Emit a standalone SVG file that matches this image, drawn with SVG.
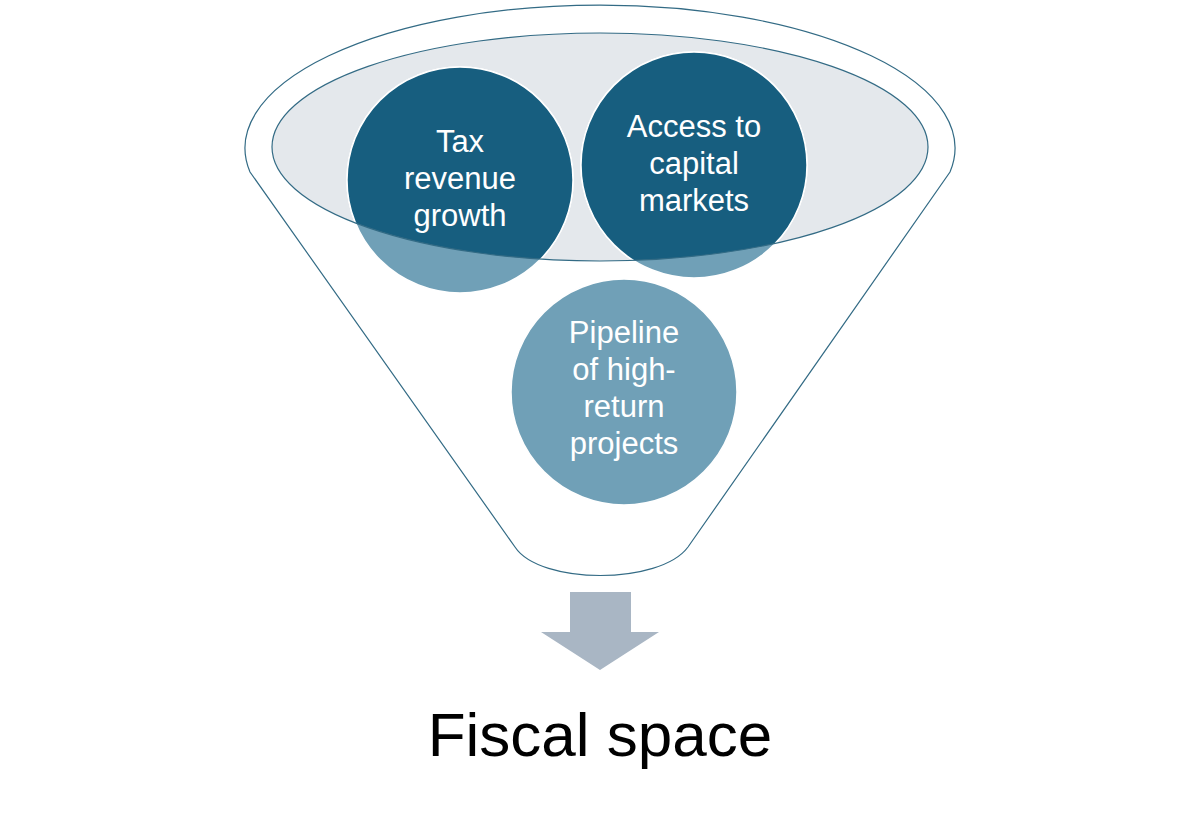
<svg xmlns="http://www.w3.org/2000/svg" width="1200" height="813" viewBox="0 0 1200 813">
<style>
.ctext{font-family:"Liberation Sans",Arial,sans-serif;font-size:31px;fill:#ffffff;text-anchor:middle}
.light{fill:#70a0b7;stroke:#ffffff;stroke-width:1.5}
.dark{fill:#175e7f;stroke:#ffffff;stroke-width:1.5}
.outline{fill:none;stroke:#336b85;stroke-width:1.2}
</style>
<defs>
<clipPath id="ellClip"><ellipse cx="600" cy="147" rx="328" ry="114"/></clipPath>
</defs>
<rect width="1200" height="813" fill="#ffffff"/>
<g id="funnel">
<path class="outline" d="M 250,172 A 355 143 0 1 1 950,172 L 688,547 C 660,585 540,585 515,547 Z"/>
<ellipse cx="600" cy="147" rx="328" ry="114" fill="#e4e8ec"/>
</g>
<g id="node-tax">
<circle class="light" cx="460" cy="180" r="113"/>
<circle class="dark" cx="460" cy="180" r="113" clip-path="url(#ellClip)"/>
</g>
<g id="node-access">
<circle class="light" cx="694" cy="165" r="113"/>
<circle class="dark" cx="694" cy="165" r="113" clip-path="url(#ellClip)"/>
</g>
<g id="funnel-rim">
<ellipse class="outline" cx="600" cy="147" rx="328" ry="114"/>
</g>
<g id="labels-top">
<text class="ctext" x="460" y="152">Tax</text>
<text class="ctext" x="460" y="189">revenue</text>
<text class="ctext" x="460" y="226">growth</text>
<text class="ctext" x="694" y="137">Access to</text>
<text class="ctext" x="694" y="174">capital</text>
<text class="ctext" x="694" y="211">markets</text>
</g>
<g id="node-pipeline">
<circle class="light" cx="624" cy="392" r="113"/>
<text class="ctext" x="624" y="343">Pipeline</text>
<text class="ctext" x="624" y="380">of high-</text>
<text class="ctext" x="624" y="417">return</text>
<text class="ctext" x="624" y="454">projects</text>
</g>
<g id="connectors">
<path d="M 570,592 L 631,592 L 631,632 L 659,632 L 600,670 L 541,632 L 570,632 Z" fill="#a9b6c4"/>
</g>
<g id="node-fiscal">
<text x="600" y="756" font-family="'Liberation Sans',Arial,sans-serif" font-size="62" fill="#000000" text-anchor="middle">Fiscal space</text>
</g>
</svg>
